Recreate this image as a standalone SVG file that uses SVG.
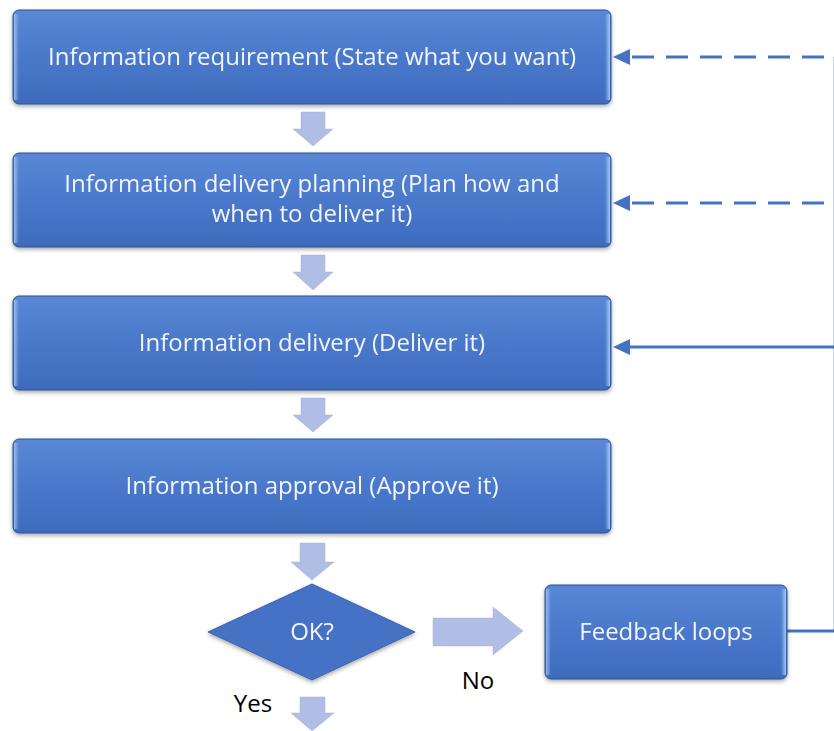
<svg xmlns="http://www.w3.org/2000/svg" width="834" height="731" viewBox="0 0 834 731">
<defs>
<linearGradient id="g" x1="0" y1="0" x2="0" y2="1">
<stop offset="0" stop-color="#5A88D6"/>
<stop offset="0.5" stop-color="#4A78CB"/>
<stop offset="1" stop-color="#3E6BBD"/>
</linearGradient>
<linearGradient id="edge" x1="0" y1="0" x2="1" y2="0">
<stop offset="0" stop-color="#9CC0F0" stop-opacity="0.9"/>
<stop offset="1" stop-color="#9CC0F0" stop-opacity="0"/>
</linearGradient>
<linearGradient id="edgeR" x1="1" y1="0" x2="0" y2="0">
<stop offset="0" stop-color="#A8CCF5" stop-opacity="0.95"/>
<stop offset="1" stop-color="#A8CCF5" stop-opacity="0"/>
</linearGradient>
<filter id="sh" x="-10%" y="-10%" width="120%" height="130%">
<feDropShadow dx="0" dy="2" stdDeviation="2" flood-color="#000" flood-opacity="0.35"/>
</filter>
</defs>
<style>
.box{fill:url(#g);stroke:#2F528F;stroke-width:1}
.hl{fill:url(#edge)}
.hr{fill:url(#edgeR)}
.t{font-family:"Open Sans","Noto Sans",sans-serif;font-size:24px;fill:#F2F5FB;text-anchor:middle}
.lbl{font-family:"Open Sans","Noto Sans",sans-serif;font-size:24px;fill:#000;text-anchor:middle}
.arr{fill:#B0BDE4;stroke:#A5B3DC;stroke-width:0.5}
.ln{stroke:#4472C4;stroke-width:3;fill:none}
.dash{stroke-dasharray:22 12}
</style>
<g id="connectors">
<path class="arr" d="M301,112 H325 V129 H333 L313,146 L293,129 H301 Z"/>
<path class="arr" d="M301,255 H325 V272 H333 L313,290 L293,272 H301 Z"/>
<path class="arr" d="M301,398 H325 V415 H333 L313,432 L293,415 H301 Z"/>
<path class="arr" d="M300,543 H325 V562 H334 L312,580 L291,562 H300 Z"/>
<path class="arr" d="M300,697 H325 V713 H334 L312,731 L291,713 H300 Z"/>
<path class="arr" d="M433,618 H493 V607 L523,631 L493,655 V646 H433 Z"/>
<line class="ln dash" x1="632" y1="57" x2="834" y2="57"/>
<path d="M613,57 L630,49 L630,65 Z" fill="#4472C4"/>
<line class="ln dash" x1="632" y1="203" x2="834" y2="203"/>
<path d="M613,203 L630,195 L630,211 Z" fill="#4472C4"/>
<line class="ln" x1="628" y1="347" x2="834" y2="347"/>
<path d="M613,347 L630,339 L630,355 Z" fill="#4472C4"/>
<line class="ln" x1="787" y1="631" x2="834" y2="631"/>
<line class="ln" x1="835.2" y1="57" x2="835.2" y2="631"/>
<text class="lbl" x="478" y="689">No</text>
<text class="lbl" x="253" y="712">Yes</text>
</g>
<g id="n1" filter="url(#sh)">
<rect class="box" x="13" y="10" width="598" height="94" rx="6"/>
<rect class="hl" x="14" y="14" width="5" height="86"/>
<rect class="hr" x="605" y="14" width="5" height="86"/>
<text class="t" x="312" y="65">Information requirement (State what you want)</text>
</g>
<g id="n2" filter="url(#sh)">
<rect class="box" x="13" y="153" width="598" height="94" rx="6"/>
<rect class="hl" x="14" y="157" width="5" height="86"/>
<rect class="hr" x="605" y="157" width="5" height="86"/>
<text class="t" x="312" y="192">Information delivery planning (Plan how and</text>
<text class="t" x="312" y="222">when to deliver it)</text>
</g>
<g id="n3" filter="url(#sh)">
<rect class="box" x="13" y="296" width="598" height="94" rx="6"/>
<rect class="hl" x="14" y="300" width="5" height="86"/>
<rect class="hr" x="605" y="300" width="5" height="86"/>
<text class="t" x="312" y="351">Information delivery  (Deliver it)</text>
</g>
<g id="n4" filter="url(#sh)">
<rect class="box" x="13" y="439" width="598" height="94" rx="6"/>
<rect class="hl" x="14" y="443" width="5" height="86"/>
<rect class="hr" x="605" y="443" width="5" height="86"/>
<text class="t" x="312" y="494">Information approval (Approve it)</text>
</g>
<g id="decision" filter="url(#sh)">
<path d="M312,584 L415,632 L312,680 L208,632 Z" fill="#4472C4" stroke="#3A64AE" stroke-width="1"/>
<text class="t" x="312" y="640">OK?</text>
</g>
<g id="feedback" filter="url(#sh)">
<rect class="box" x="545" y="585" width="242" height="94" rx="6"/>
<rect class="hl" x="546" y="589" width="5" height="86"/>
<rect class="hr" x="781" y="589" width="5" height="86"/>
<text class="t" x="666" y="640">Feedback loops</text>
</g>
</svg>
